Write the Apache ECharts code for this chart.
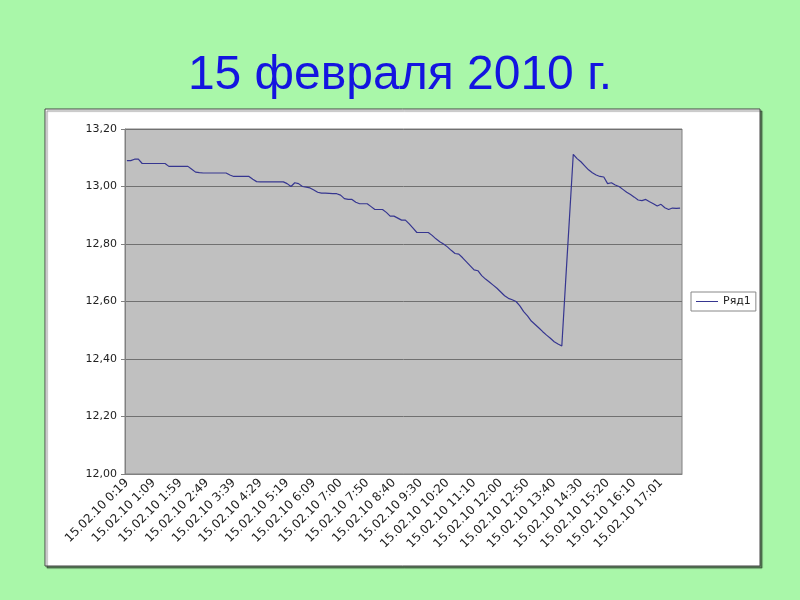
<!DOCTYPE html>
<html>
<head>
<meta charset="utf-8">
<title>15 февраля 2010 г.</title>
<script src="https://cdn.jsdelivr.net/npm/echarts@6/dist/echarts.min.js"></script>
<style>
  html, body { margin: 0; padding: 0; background: #a9f7a9; }
  #voltage { width: 800px; height: 600px; }
</style>
</head>
<body>
<div id="voltage"></div>
<script>
// labels shown under the axis, one every 7 readings
var tickLabels = ['15.02.10 0:19', '15.02.10 1:09', '15.02.10 1:59', '15.02.10 2:49', '15.02.10 3:39',
    '15.02.10 4:29', '15.02.10 5:19', '15.02.10 6:09', '15.02.10 7:00', '15.02.10 7:50',
    '15.02.10 8:40', '15.02.10 9:30', '15.02.10 10:20', '15.02.10 11:10', '15.02.10 12:00',
    '15.02.10 12:50', '15.02.10 13:40', '15.02.10 14:30', '15.02.10 15:20', '15.02.10 16:10',
    '15.02.10 17:01'];
var labelStep = 7;

var seriesName = 'Ряд1';
var values = [
    13.09, 13.09, 13.095, 13.095, 13.08, 13.08, 13.08, 13.08, 13.08, 13.08,
    13.08, 13.07, 13.07, 13.07, 13.07, 13.07, 13.07, 13.06, 13.05, 13.048,
    13.047, 13.047, 13.047, 13.047, 13.047, 13.047, 13.047, 13.04, 13.035, 13.035,
    13.035, 13.035, 13.035, 13.025, 13.017, 13.016, 13.016, 13.016, 13.016, 13.016,
    13.016, 13.016, 13.01, 13.0, 13.013, 13.01, 13.0, 12.998, 12.995, 12.988,
    12.98, 12.977, 12.977, 12.976, 12.975, 12.975, 12.97, 12.958, 12.955, 12.955,
    12.945, 12.94, 12.94, 12.94, 12.93, 12.92, 12.92, 12.92, 12.91, 12.897,
    12.897, 12.89, 12.883, 12.883, 12.87, 12.855, 12.84, 12.84, 12.84, 12.84,
    12.83, 12.818, 12.808, 12.80, 12.79, 12.778, 12.767, 12.765, 12.752, 12.738,
    12.724, 12.71, 12.707, 12.69, 12.678, 12.668, 12.657, 12.646, 12.633, 12.62,
    12.611, 12.606, 12.60, 12.585, 12.565, 12.55, 12.532, 12.52, 12.508, 12.495,
    12.483, 12.472, 12.46, 12.452, 12.445, 12.67, 12.89, 13.112, 13.097, 13.086,
    13.072, 13.058, 13.048, 13.04, 13.035, 13.033, 13.01, 13.013, 13.005, 13.0,
    12.99, 12.98, 12.972, 12.963, 12.953, 12.951, 12.955, 12.947, 12.94, 12.932,
    12.938, 12.926, 12.92, 12.925, 12.924, 12.925
];

// one category per reading, only every 7th one carries a time label
var categories = values.map(function (v, i) {
    return i % labelStep === 0 && tickLabels[i / labelStep] ? tickLabels[i / labelStep] : '';
});

var chart = echarts.init(document.getElementById('voltage'));

var option = {
    backgroundColor: '#a9f7a9',
    animation: false,
    title: {
        text: '15 февраля 2010 г.',
        left: 'center',
        top: 47,
        textStyle: {
            color: '#1414e0',
            fontFamily: 'Liberation Sans',
            fontSize: 48,
            fontWeight: 'normal'
        }
    },
    graphic: [{
        type: 'rect',
        z: -10,
        shape: { x: 45, y: 109, width: 715, height: 457 },
        style: {
            fill: '#ffffff',
            stroke: '#444444',
            lineWidth: 1,
            shadowColor: 'rgba(0,0,0,0.45)',
            shadowOffsetX: 2,
            shadowOffsetY: 2,
            shadowBlur: 1
        }
    }],
    legend: {
        left: 691,
        top: 292,
        orient: 'vertical',
        padding: [4, 5, 4, 5],
        backgroundColor: '#ffffff',
        borderColor: '#888888',
        borderWidth: 1,
        borderRadius: 0,
        itemWidth: 22,
        itemHeight: 1,
        itemGap: 4,
        textStyle: { color: '#222', fontFamily: 'DejaVu Sans', fontSize: 11 },
        data: [{ name: seriesName, icon: 'rect' }]
    },
    grid: {
        left: 125,
        right: 118,
        top: 129,
        bottom: 126,
        show: true,
        backgroundColor: '#c0c0c0',
        borderColor: '#808080',
        borderWidth: 1
    },
    xAxis: {
        type: 'category',
        boundaryGap: true,
        data: categories,
        axisLine: { lineStyle: { color: '#808080' } },
        axisTick: { interval: 0, length: 3, lineStyle: { color: '#808080' } },
        axisLabel: {
            interval: labelStep - 1,
            rotate: 45,
            margin: 7,
            color: '#222',
            fontFamily: 'DejaVu Sans',
            fontSize: 12
        },
        splitLine: { show: false }
    },
    yAxis: {
        type: 'value',
        min: 12,
        max: 13.2,
        interval: 0.2,
        axisLine: { show: true, lineStyle: { color: '#808080' } },
        axisTick: { show: true, length: 4, lineStyle: { color: '#808080' } },
        axisLabel: {
            margin: 8,
            color: '#222',
            fontFamily: 'DejaVu Sans',
            fontSize: 11,
            formatter: function (v) { return v.toFixed(2).replace('.', ','); }
        },
        splitLine: { lineStyle: { color: '#707070', width: 1 } }
    },
    series: [{
        name: seriesName,
        type: 'line',
        data: values,
        showSymbol: false,
        symbol: 'none',
        color: '#363690',
        lineStyle: { color: '#363690', width: 1.2 }
    }]
};

chart.setOption(option);
window.addEventListener('resize', chart.resize);
</script>
</body>
</html>
